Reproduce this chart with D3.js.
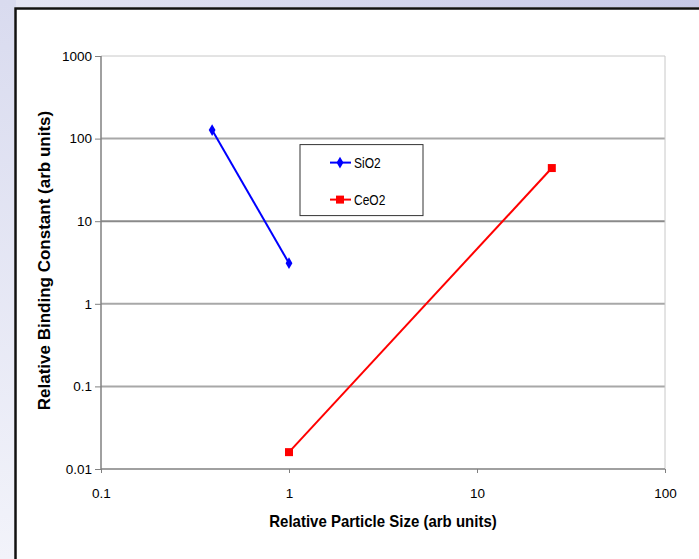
<!DOCTYPE html>
<html>
<head>
<meta charset="utf-8">
<script src="https://cdn.jsdelivr.net/npm/d3@7"></script>
<style>
  html, body { margin: 0; padding: 0; }
  body {
    width: 699px; height: 559px; overflow: hidden;
    background: linear-gradient(to right, #e4e5f3, #c7c9e7);
    position: relative;
  }
  #side {
    position: absolute; left: 0; top: 0; width: 16px; height: 559px;
    background: linear-gradient(to bottom, #d9dbef, #f2f3fa);
  }
  #chart { position: absolute; left: 14px; top: 7px; }
</style>
</head>
<body>
<div id="side"></div>
<div id="chart"></div>
<script>
// data
var seriesNames = ["SiO2", "CeO2"];
var sio2X = [0.39, 1];
var sio2Y = [127, 3.1];
var ceo2X = [1, 25];
var ceo2Y = [0.016, 44];
var xTicks = [0.1, 1, 10, 100];
var yTicks = [0.01, 0.1, 1, 10, 100, 1000];

var W = 685, H = 552;
var margin = {top: 49, right: 20, bottom: 83, left: 87},
    width = 651 - margin.left,
    height = 462 - margin.top;
var font = "Liberation Sans, Arial, sans-serif";

var root = d3.select("#chart").append("svg")
    .attr("width", W)
    .attr("height", H);

// white panel with dark frame on left/top
root.append("rect")
    .attr("x", 0).attr("y", 0)
    .attr("width", W).attr("height", H)
    .attr("fill", "white");
root.append("path")
    .attr("d", "M1.5," + H + "V1.5H" + W)
    .attr("fill", "none")
    .attr("stroke", "#111")
    .attr("stroke-width", 2.5);

var svg = root.append("g")
    .attr("transform", "translate(" + margin.left + "," + margin.top + ")");

var x = d3.scaleLog().domain([0.1, 100]).range([0, width]),
    y = d3.scaleLog().domain([0.01, 1000]).range([height, 0]);

// grid
svg.append("g")
  .selectAll("line")
  .data(yTicks.slice(1))
  .enter().append("line")
    .attr("x1", 0).attr("x2", width)
    .attr("y1", function(d) { return y(d); })
    .attr("y2", function(d) { return y(d); })
    .attr("stroke", function(d) { return d == 1000 ? "#c8c8c8" : (d == 10 ? "#8a8a8a" : "#a8a8a8"); })
    .attr("stroke-width", function(d) { return d == 1000 ? 1 : 2; });

svg.append("line")
    .attr("x1", width).attr("x2", width)
    .attr("y1", 0).attr("y2", height)
    .attr("stroke", "#c8c8c8");

// axes
var yAxis = svg.append("g")
    .attr("class", "y-axis")
    .call(d3.axisLeft(y).tickValues(yTicks).tickSize(6).tickPadding(3)
      .tickFormat(function(d) { return String(d); }));
var xAxis = svg.append("g")
    .attr("class", "x-axis")
    .attr("transform", "translate(0," + height + ")")
    .call(d3.axisBottom(x).tickValues(xTicks).tickSize(4).tickPadding(15)
      .tickFormat(function(d) { return String(d); }));

[yAxis, xAxis].forEach(function(a) {
  a.select(".domain").attr("stroke", "#808080").attr("stroke-width", 1.5);
  a.selectAll(".tick line").attr("stroke", "#808080");
  a.selectAll("text")
    .attr("fill", "#000")
    .style("font-family", font)
    .style("font-size", "13.5px");
});
xAxis.select(".domain").attr("d", "M0,0H" + width);
yAxis.select(".domain").attr("d", "M0," + height + "V0");

// axis titles
svg.append("text")
    .attr("transform", "translate(" + (width / 2) + "," + (height + 58) + ") scale(1,1.15)")
    .attr("text-anchor", "middle")
    .style("font-family", font)
    .style("font-size", "15px")
    .style("font-weight", "bold")
    .text("Relative Particle Size (arb units)");

svg.append("text")
    .attr("transform", "translate(" + (-51) + "," + (height / 2 - 2) + ") rotate(-90)")
    .attr("text-anchor", "middle")
    .style("font-family", font)
    .style("font-size", "17px")
    .style("font-weight", "bold")
    .text("Relative Binding Constant (arb units)");

// series
var series = [
  {name: seriesNames[0], color: "#0000ff", shape: d3.symbolDiamond, size: 40,
   pts: sio2X.map(function(v, i) { return [v, sio2Y[i]]; })},
  {name: seriesNames[1], color: "#ff0000", shape: d3.symbolSquare, size: 64,
   pts: ceo2X.map(function(v, i) { return [v, ceo2Y[i]]; })}
];

var line = d3.line()
    .x(function(d) { return x(d[0]); })
    .y(function(d) { return y(d[1]); });

series.forEach(function(s) {
  svg.append("path")
      .datum(s.pts)
      .attr("d", line)
      .attr("fill", "none")
      .attr("stroke", s.color)
      .attr("stroke-width", 2);
  svg.selectAll(".pt-" + s.name)
      .data(s.pts)
      .enter().append("path")
      .attr("class", "pt-" + s.name)
      .attr("transform", function(d) { return "translate(" + x(d[0]) + "," + y(d[1]) + ")"; })
      .attr("d", d3.symbol().type(s.shape).size(s.size))
      .attr("fill", s.color);
});

// legend
var lg = svg.append("g")
    .attr("transform", "translate(" + (x(1) + 11) + "," + (y(100) + 6) + ")");
lg.append("rect")
    .attr("x", 0).attr("y", 0)
    .attr("width", 123).attr("height", 71)
    .attr("fill", "white")
    .attr("stroke", "#333");
series.forEach(function(s, i) {
  var cy = 18 + i * 37;
  lg.append("line")
      .attr("x1", 30).attr("x2", 51)
      .attr("y1", cy).attr("y2", cy)
      .attr("stroke", s.color).attr("stroke-width", 2);
  lg.append("path")
      .attr("transform", "translate(40," + cy + ")")
      .attr("d", d3.symbol().type(s.shape).size(s.size))
      .attr("fill", s.color);
  lg.append("text")
      .attr("transform", "translate(54," + (cy + 5) + ") scale(1,1.2)")
      .style("font-family", font)
      .style("font-size", "12px")
      .text(s.name);
});
</script>
</body>
</html>
